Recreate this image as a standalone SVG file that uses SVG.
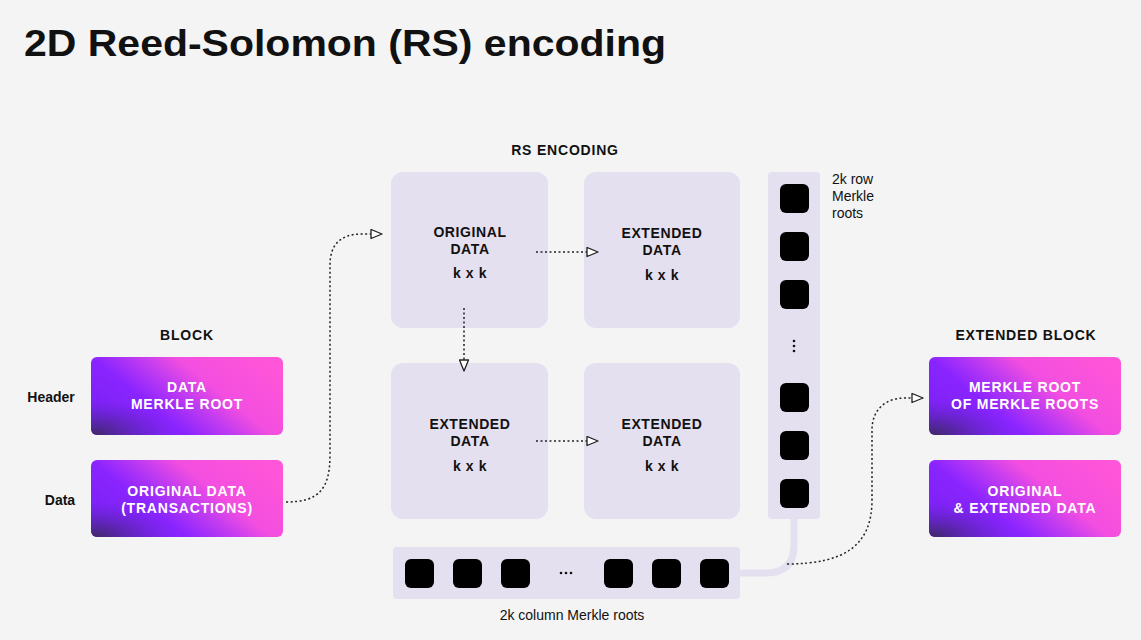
<svg xmlns="http://www.w3.org/2000/svg" width="1141" height="640" viewBox="0 0 1141 640">
<defs>
<linearGradient id="g" x1="0" y1="0.75" x2="1" y2="0.25">
<stop offset="0" stop-color="#7a22f2"/>
<stop offset="0.3" stop-color="#8a24ff"/>
<stop offset="0.5" stop-color="#c23cf0"/>
<stop offset="0.65" stop-color="#f24ee0"/>
<stop offset="1" stop-color="#ff55d8"/>
</linearGradient>
<radialGradient id="dk" cx="0" cy="1" r="0.45">
<stop offset="0" stop-color="#3a2a5a" stop-opacity="0.95"/>
<stop offset="1" stop-color="#5a22c0" stop-opacity="0"/>
</radialGradient>
<marker id="ah" viewBox="0 0 13 11" refX="12" refY="5.5" markerWidth="13" markerHeight="11" markerUnits="userSpaceOnUse" orient="auto">
<path d="M1,1 L12,5.5 L1,10 Z" fill="#ffffff" stroke="#222" stroke-width="1.3" stroke-linejoin="round"/>
</marker>
<style>
.title{font-family:"Liberation Sans",Arial,sans-serif;font-weight:bold;font-size:37px;fill:#111}
.hdr{font-family:"Liberation Sans",Arial,sans-serif;font-weight:bold;font-size:14px;letter-spacing:0.8px;fill:#111;text-anchor:middle}
.lbl{font-family:"Liberation Sans",Arial,sans-serif;font-weight:bold;font-size:14px;fill:#111;text-anchor:middle}
.wt{font-family:"Liberation Sans",Arial,sans-serif;font-weight:bold;font-size:14px;letter-spacing:0.8px;fill:#ffffff;text-anchor:middle}
.bt{font-family:"Liberation Sans",Arial,sans-serif;font-weight:bold;font-size:14px;letter-spacing:0.6px;fill:#111;text-anchor:middle}
.nt{font-family:"Liberation Sans",Arial,sans-serif;font-size:14px;fill:#111}
.cell{fill:#e4e0ef}
.sq{fill:#000}
.dash{fill:none;stroke:#222;stroke-width:1.5;stroke-dasharray:2 2.5}
.grad{fill:url(#g)}
.dark{fill:url(#dk)}
</style>
</defs>
<rect width="1141" height="640" fill="#f4f4f4"/>
<text class="title" x="24" y="56" textLength="642" lengthAdjust="spacingAndGlyphs">2D Reed-Solomon (RS) encoding</text>

<g id="block">
<text class="hdr" x="187" y="340">BLOCK</text>
<text class="lbl" x="51" y="402">Header</text>
<text class="lbl" x="60" y="505">Data</text>
</g>
<g id="block-header">
<rect class="grad" x="91" y="357" width="192" height="78" rx="6"/>
<rect class="dark" x="91" y="357" width="192" height="78" rx="6"/>
<text class="wt" x="187" y="392">DATA</text>
<text class="wt" x="187" y="409">MERKLE ROOT</text>
</g>
<g id="block-data">
<rect class="grad" x="91" y="460" width="192" height="77" rx="6"/>
<rect class="dark" x="91" y="460" width="192" height="77" rx="6"/>
<text class="wt" x="187" y="496">ORIGINAL DATA</text>
<text class="wt" x="187" y="513">(TRANSACTIONS)</text>
</g>

<g id="rs-encoding">
<text class="hdr" x="565" y="155">RS ENCODING</text>
</g>
<g id="q-original">
<rect class="cell" x="391" y="172" width="157" height="156" rx="12"/>
<text class="bt" x="470" y="237">ORIGINAL</text>
<text class="bt" x="470" y="254">DATA</text>
<text class="bt" x="470" y="278">k x k</text>
</g>
<g id="q-extended-right">
<rect class="cell" x="584" y="172" width="156" height="156" rx="12"/>
<text class="bt" x="662" y="238">EXTENDED</text>
<text class="bt" x="662" y="255">DATA</text>
<text class="bt" x="662" y="280">k x k</text>
</g>
<g id="q-extended-bottom">
<rect class="cell" x="391" y="363" width="157" height="156" rx="12"/>
<text class="bt" x="470" y="429">EXTENDED</text>
<text class="bt" x="470" y="446">DATA</text>
<text class="bt" x="470" y="471">k x k</text>
</g>
<g id="q-extended-corner">
<rect class="cell" x="584" y="363" width="156" height="156" rx="12"/>
<text class="bt" x="662" y="429">EXTENDED</text>
<text class="bt" x="662" y="446">DATA</text>
<text class="bt" x="662" y="471">k x k</text>
</g>

<g id="row-roots">
<rect class="cell" x="768" y="172" width="52" height="347" rx="4"/>
<rect class="sq" x="780" y="184" width="29" height="29" rx="6"/>
<rect class="sq" x="780" y="232" width="29" height="29" rx="6"/>
<rect class="sq" x="780" y="280" width="29" height="29" rx="6"/>
<circle cx="794" cy="341" r="1.3" fill="#111"/>
<circle cx="794" cy="346" r="1.3" fill="#111"/>
<circle cx="794" cy="351" r="1.3" fill="#111"/>
<rect class="sq" x="780" y="383" width="29" height="29" rx="6"/>
<rect class="sq" x="780" y="431" width="29" height="29" rx="6"/>
<rect class="sq" x="780" y="479" width="29" height="29" rx="6"/>
<text class="nt" x="832" y="184">2k row</text>
<text class="nt" x="832" y="201">Merkle</text>
<text class="nt" x="832" y="218">roots</text>
</g>

<g id="column-roots">
<rect class="cell" x="393" y="547" width="347" height="52" rx="4"/>
<rect class="sq" x="405" y="559" width="29" height="29" rx="6"/>
<rect class="sq" x="453" y="559" width="29" height="29" rx="6"/>
<rect class="sq" x="501" y="559" width="29" height="29" rx="6"/>
<circle cx="561" cy="573" r="1.3" fill="#111"/>
<circle cx="566" cy="573" r="1.3" fill="#111"/>
<circle cx="571" cy="573" r="1.3" fill="#111"/>
<rect class="sq" x="604" y="559" width="29" height="29" rx="6"/>
<rect class="sq" x="652" y="559" width="29" height="29" rx="6"/>
<rect class="sq" x="700" y="559" width="29" height="29" rx="6"/>
<text class="nt" x="572" y="620" text-anchor="middle">2k column Merkle roots</text>
</g>

<g id="extended-block">
<text class="hdr" x="1026" y="340">EXTENDED BLOCK</text>
</g>
<g id="ext-root">
<rect class="grad" x="929" y="357" width="192" height="78" rx="6"/>
<rect class="dark" x="929" y="357" width="192" height="78" rx="6"/>
<text class="wt" x="1025" y="392">MERKLE ROOT</text>
<text class="wt" x="1025" y="409">OF MERKLE ROOTS</text>
</g>
<g id="ext-data">
<rect class="grad" x="929" y="460" width="192" height="77" rx="6"/>
<rect class="dark" x="929" y="460" width="192" height="77" rx="6"/>
<text class="wt" x="1025" y="496">ORIGINAL</text>
<text class="wt" x="1025" y="513">&amp; EXTENDED DATA</text>
</g>

<g id="connectors">
<path d="M794,517 V545 Q794,573 766,573 H738" fill="none" stroke="#e4e0ef" stroke-width="7"/>
<path class="dash" d="M286,502 C318,502 330,490 330,455 V265 C330,245 340,234 362,234 H382" marker-end="url(#ah)"/>
<path class="dash" d="M536,252 H598" marker-end="url(#ah)"/>
<path class="dash" d="M464,308 V371" marker-end="url(#ah)"/>
<path class="dash" d="M536,441 H598" marker-end="url(#ah)"/>
<path class="dash" d="M787,564 C845,564 872,545 872,500 V430 C872,410 885,398 905,398 H923" marker-end="url(#ah)"/>
</g>
</svg>
